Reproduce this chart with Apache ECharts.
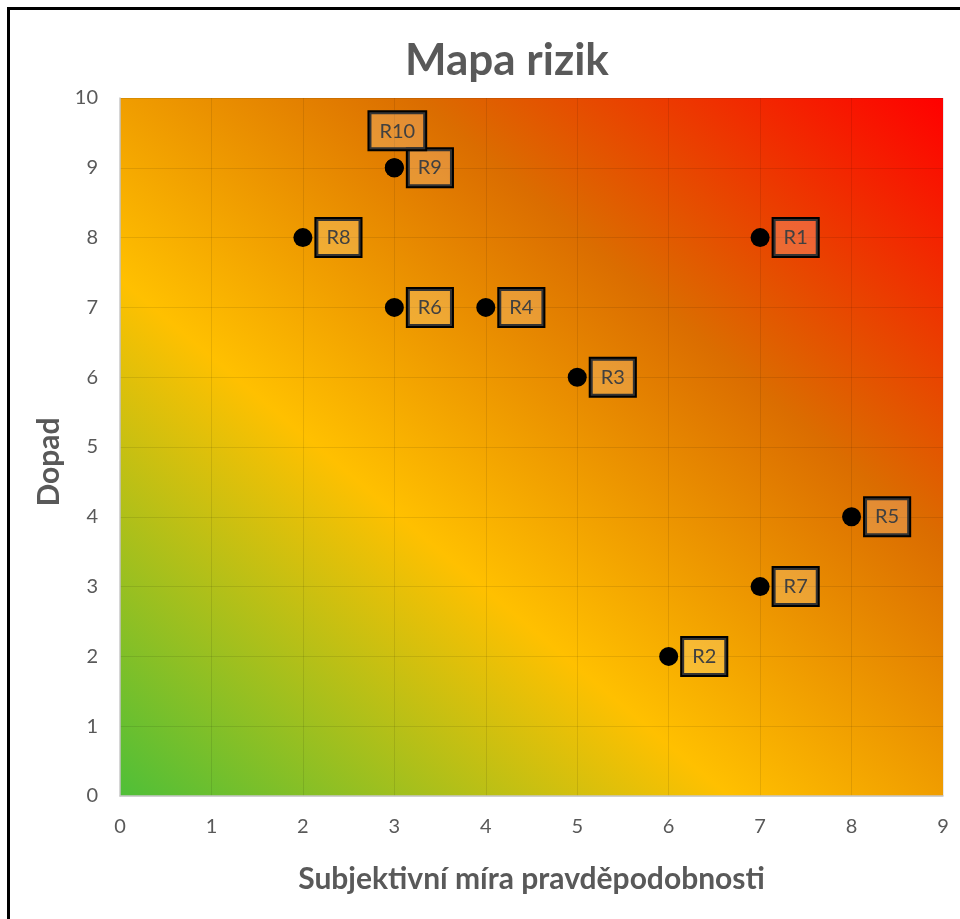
<!DOCTYPE html>
<html>
<head>
<meta charset="utf-8">
<title>Mapa rizik</title>
<script src="https://cdn.jsdelivr.net/npm/echarts@6/dist/echarts.min.js"></script>
<style>
    html, body { margin: 0; padding: 0; background: #fff; }
    #mapa { width: 960px; height: 919px; }
</style>
</head>
<body>
<div id="mapa"></div>
<script>
// data
var rizika = ['R1', 'R2', 'R3', 'R4', 'R5', 'R6', 'R7', 'R8', 'R9', 'R10'];
var pravdepodobnost = [7, 6, 5, 4, 8, 3, 7, 2, 3, 3];
var dopad = [8, 2, 6, 7, 4, 7, 3, 8, 9, 9];
var xTicks = [0, 1, 2, 3, 4, 5, 6, 7, 8, 9];
var yTicks = [0, 1, 2, 3, 4, 5, 6, 7, 8, 9, 10];

var mapa = echarts.init(document.getElementById('mapa'));

// plot area size (for the diagonal gradient like in Excel)
var w = 823, h = 698;
var gx2 = 2 * h * h / (w * w + h * h);
var gy2 = 1 - 2 * w * w / (w * w + h * h);

var body = [];
for (var i = 0; i < rizika.length; i++) {
    var item = { name: rizika[i], value: [pravdepodobnost[i], dopad[i]] };
    if (rizika[i] === 'R10') {
        item.label = { position: 'top', distance: 9, offset: [3, 0] };
    }
    body.push(item);
}

var option = {
    backgroundColor: '#fff',
    animation: false,
    title: {
        text: 'Mapa rizik',
        left: 400,
        top: 34,
        textStyle: { fontFamily: 'Lato', fontSize: 44, fontWeight: 'bold', color: '#595959' }
    },
    graphic: [{
        type: 'rect',
        shape: { x: 8.5, y: 8.5, width: 1000, height: 1000 },
        style: { fill: 'none', stroke: '#000', lineWidth: 3 },
        z: 100
    }],
    grid: {
        left: 120, right: 17, top: 98, bottom: 123,
        show: true,
        borderWidth: 0,
        backgroundColor: {
            type: 'linear', x: 0, y: 1, x2: gx2, y2: gy2,
            colorStops: [
                { offset: 0, color: '#4fbf38' },
                { offset: 0.37, color: '#ffc000' },
                { offset: 0.68, color: '#db6d00' },
                { offset: 1, color: '#ff0000' }
            ]
        }
    },
    xAxis: {
        type: 'value',
        min: xTicks[0], max: xTicks[xTicks.length - 1], interval: 1,
        name: 'Subjektivní míra pravděpodobnosti',
        nameLocation: 'middle',
        nameGap: 68,
        nameTextStyle: { fontFamily: 'Lato', fontSize: 30, fontWeight: 'bold', color: '#595959' },
        axisLine: { show: true, lineStyle: { color: '#c8c8c8', width: 1.5 } },
        axisTick: { show: false },
        axisLabel: { margin: 21, fontFamily: 'Lato', fontSize: 20, color: '#595959' },
        splitLine: { show: true, lineStyle: { color: 'rgba(0,0,0,0.09)', width: 1 } }
    },
    yAxis: {
        type: 'value',
        min: yTicks[0], max: yTicks[yTicks.length - 1], interval: 1,
        name: 'Dopad',
        nameLocation: 'middle',
        nameGap: 52,
        nameTextStyle: { fontFamily: 'Lato', fontSize: 30, fontWeight: 'bold', color: '#595959', padding: [0, 30, 0, 0] },
        axisLine: { show: true, lineStyle: { color: '#c8c8c8', width: 1.5 } },
        axisTick: { show: false },
        axisLabel: { margin: 22, fontFamily: 'Lato', fontSize: 20, color: '#595959' },
        splitLine: { show: true, lineStyle: { color: 'rgba(0,0,0,0.09)', width: 1 } }
    },
    series: [{
        type: 'scatter',
        symbol: 'circle',
        symbolSize: 19,
        itemStyle: { color: '#000', opacity: 1 },
        label: {
            show: true,
            position: 'right',
            distance: 4,
            formatter: '{b}',
            fontFamily: 'Lato',
            fontSize: 20,
            color: '#404040',
            backgroundColor: 'rgba(255,255,255,0.2)',
            borderColor: '#000',
            borderWidth: 2,
            padding: [9, 10, 8, 10]
        },
        data: body
    }]
};

mapa.setOption(option);
</script>
</body>
</html>
